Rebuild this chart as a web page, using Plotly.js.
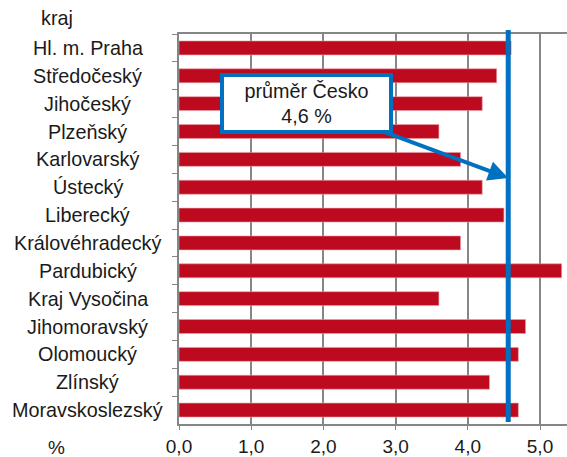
<!DOCTYPE html>
<html><head><meta charset="utf-8">
<script src="https://cdn.plot.ly/plotly-3.0.1.min.js"></script>
<style>html,body{margin:0;padding:0;background:#fff}#chart{width:567px;height:457px}</style>
</head><body><div id="chart"></div>
<script>
var categories = ["Hl. m. Praha","Středočeský","Jihočeský","Plzeňský","Karlovarský","Ústecký","Liberecký","Královéhradecký","Pardubický","Kraj Vysočina","Jihomoravský","Olomoucký","Zlínský","Moravskoslezský"];
var values = [4.6,4.4,4.2,3.6,3.9,4.2,4.5,3.9,5.3,3.6,4.8,4.7,4.3,4.7];
var averageValue = 4.56;
var averageLabel = "průměr Česko<br>4,6 %";
var xTickVals = [0,1,2,3,4,5];
var xTickText = ["0,0","1,0","2,0","3,0","4,0","5,0"];

var font = {family:"Liberation Sans, Arial, sans-serif", size:19.8, color:"#1a1a1a"};
var tickFont = {family:"Liberation Sans, Arial, sans-serif", size:19, color:"#1a1a1a"};

var annotations = categories.map(function(c){
  return {xref:"paper", yref:"y", x:-0.235, y:c, text:c, showarrow:false, xanchor:"center", yanchor:"middle", font:font};
});
annotations.push({xref:"paper", yref:"paper", x:-0.315, y:1.04, text:"kraj", showarrow:false, xanchor:"center", yanchor:"middle", font:font});
annotations.push({xref:"paper", yref:"paper", x:-0.315, y:-0.06, text:"%", showarrow:false, xanchor:"center", yanchor:"middle", font:tickFont});
annotations.push({
  xref:"x", yref:"y", x:averageValue, y:4.67, axref:"x", ayref:"y", ax:1.77, ay:1.98,
  text:averageLabel, showarrow:true, arrowhead:2, arrowsize:1, arrowwidth:4, arrowcolor:"#0070C0",
  bordercolor:"#0070C0", borderwidth:4, borderpad:0, bgcolor:"#ffffff",
  width:165, height:53, font:font, align:"center"
});

var trace = {
  type:"bar", orientation:"h", x:values, y:categories,
  marker:{color:"#BE0A1E", line:{color:"#E8A0A8", width:0.6}},
  width:0.5, hoverinfo:"none"
};

var layout = {
  width:567, height:457,
  margin:{l:179, r:0, t:34, b:33},
  paper_bgcolor:"#fff", plot_bgcolor:"#fff",
  showlegend:false,
  font:font,
  xaxis:{range:[0,5.374], tickvals:xTickVals, ticktext:xTickText, showgrid:true, gridcolor:"#868686", gridwidth:1.8,
    showline:true, linecolor:"#868686", linewidth:1.8, mirror:true, ticks:"outside", ticklen:4, tickcolor:"#868686",
    zeroline:false, tickfont:tickFont, fixedrange:true},
  yaxis:{type:"category", autorange:"reversed", showticklabels:false, showgrid:false, showline:true, linecolor:"#868686", linewidth:1.8,
    ticks:"outside", tickson:"boundaries", ticklen:5, tickcolor:"#868686", zeroline:false, fixedrange:true},
  shapes:[{type:"line", xref:"x", yref:"paper", x0:averageValue, x1:averageValue, y0:0.005, y1:1.01,
    line:{color:"#0070C0", width:5}}],
  annotations:annotations
};
Plotly.newPlot("chart",[trace],layout,{displayModeBar:false, staticPlot:true});
</script></body></html>
